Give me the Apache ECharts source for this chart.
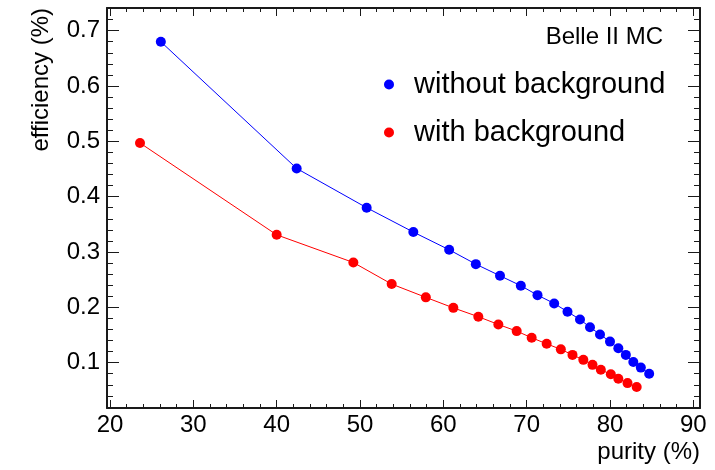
<!DOCTYPE html>
<html>
<head>
<meta charset="utf-8">
<script src="https://cdn.jsdelivr.net/npm/echarts@6/dist/echarts.min.js"></script>
<style>
html,body{margin:0;padding:0;background:#fff;}
#chart{width:715px;height:470px;}
</style>
</head>
<body>
<div id="chart"></div>
<script>
// ---- data ----
const seriesNames = ['without background', 'with background'];
const purityNoBkg = [26.1, 42.4, 50.8, 56.4, 60.7, 63.9, 66.8, 69.3, 71.3, 73.3, 74.9, 76.4, 77.6, 78.8, 80.0, 81.0, 81.9, 82.8, 83.7, 84.7];
const effNoBkg    = [0.680, 0.451, 0.380, 0.336, 0.304, 0.278, 0.257, 0.239, 0.222, 0.207, 0.192, 0.178, 0.164, 0.151, 0.138, 0.126, 0.114, 0.101, 0.091, 0.080];
const purityBkg   = [23.6, 40.0, 49.2, 53.8, 57.9, 61.2, 64.2, 66.6, 68.8, 70.6, 72.4, 74.1, 75.5, 76.8, 77.9, 78.9, 80.1, 81.0, 82.1, 83.2];
const effBkg      = [0.497, 0.331, 0.281, 0.242, 0.218, 0.199, 0.183, 0.169, 0.157, 0.145, 0.134, 0.124, 0.114, 0.105, 0.096, 0.087, 0.079, 0.071, 0.063, 0.056];
const xTicks = [20, 30, 40, 50, 60, 70, 80, 90];
const yTicks = [0.1, 0.2, 0.3, 0.4, 0.5, 0.6, 0.7];
const yTickLabels = ['0.1', '0.2', '0.3', '0.4', '0.5', '0.6', '0.7'];
const xTitle = 'purity (%)';
const yTitle = 'efficiency (%)';
const stamp = 'Belle II MC';

// ---- minor tick positions ----
const xMinor = [];
for (let v = 20; v <= 90; v += 2) { if (v % 10 !== 0) xMinor.push(v); }
const yMinor = [];
for (let k = 2; k <= 37; k++) { if (k % 5 !== 0) yMinor.push(Math.round(k * 2) / 100); }

const FONT = '"Liberation Sans", Arial, Helvetica, sans-serif';
const FRAME = '#1a1a1a';
const X_MIN = 19.64, X_MAX = 90.8, Y_MIN = 0.018, Y_MAX = 0.741;

function xAxisDef(pos, ticks, len, showLine, showLabel) {
  return {
    type: 'value', position: pos, min: X_MIN, max: X_MAX,
    axisLine: { show: showLine, onZero: false, lineStyle: { color: FRAME, width: 2 } },
    axisTick: { show: true, inside: true, length: len, customValues: ticks, lineStyle: { color: FRAME, width: 1 } },
    axisLabel: showLabel ? { show: true, customValues: ticks, margin: 5, fontSize: 24, fontFamily: FONT, color: '#000' } : { show: false },
    splitLine: { show: false }
  };
}
function yAxisDef(pos, ticks, len, showLine, showLabel) {
  return {
    type: 'value', position: pos, min: Y_MIN, max: Y_MAX,
    axisLine: { show: showLine, onZero: false, lineStyle: { color: FRAME, width: 2 } },
    axisTick: { show: true, inside: true, length: len, customValues: ticks, lineStyle: { color: FRAME, width: 1 } },
    axisLabel: showLabel ? {
      show: true, customValues: ticks, margin: 7, fontSize: 24, fontFamily: FONT, color: '#000',
      formatter: function (v) { const i = yTicks.findIndex(t => Math.abs(t - v) < 1e-9); return i >= 0 ? yTickLabels[i] : ''; }
    } : { show: false },
    splitLine: { show: false }
  };
}

const chart = echarts.init(document.getElementById('chart'), null, { renderer: 'canvas' });
chart.setOption({
  animation: false,
  backgroundColor: '#fff',
  grid: { left: 107, top: 8, right: 15, bottom: 62, containLabel: false },
  xAxis: [
    xAxisDef('bottom', xTicks, 8, true, true),
    xAxisDef('bottom', xMinor, 4, false, false),
    xAxisDef('top', xTicks, 8, true, false),
    xAxisDef('top', xMinor, 4, false, false)
  ],
  yAxis: [
    yAxisDef('left', yTicks, 12, true, true),
    yAxisDef('left', yMinor, 6, false, false),
    yAxisDef('right', yTicks, 12, true, false),
    yAxisDef('right', yMinor, 6, false, false)
  ],
  title: {
    text: stamp, right: 52, top: 25, padding: 0,
    textStyle: { fontSize: 24, fontWeight: 'normal', fontFamily: FONT, color: '#000' }
  },
  legend: {
    orient: 'vertical', left: 384, top: 70, padding: 0, itemGap: 19,
    icon: 'circle', itemWidth: 10, itemHeight: 10,
    data: seriesNames,
    textStyle: { fontSize: 29, fontFamily: FONT, color: '#000', padding: [0, 0, 0, 15] }
  },
  graphic: [
    { type: 'text', x: 41.5, y: 8, rotation: Math.PI / 2, silent: true,
      style: { text: yTitle, font: '24px ' + FONT, fill: '#000', align: 'right', verticalAlign: 'middle' } },
    { type: 'text', x: 700, y: 452, silent: true,
      style: { text: xTitle, font: '24px ' + FONT, fill: '#000', align: 'right', verticalAlign: 'middle' } }
  ],
  series: [
    {
      name: seriesNames[0], type: 'line', xAxisIndex: 0, yAxisIndex: 0,
      data: purityNoBkg.map((x, i) => [x, effNoBkg[i]]),
      symbol: 'circle', symbolSize: 10, showSymbol: true,
      itemStyle: { color: '#0000ff' }, lineStyle: { color: '#0000ff', width: 1 }
    },
    {
      name: seriesNames[1], type: 'line', xAxisIndex: 0, yAxisIndex: 0,
      data: purityBkg.map((x, i) => [x, effBkg[i]]),
      symbol: 'circle', symbolSize: 10, showSymbol: true,
      itemStyle: { color: '#ff0000' }, lineStyle: { color: '#ff0000', width: 1 }
    }
  ]
});
</script>
</body>
</html>
